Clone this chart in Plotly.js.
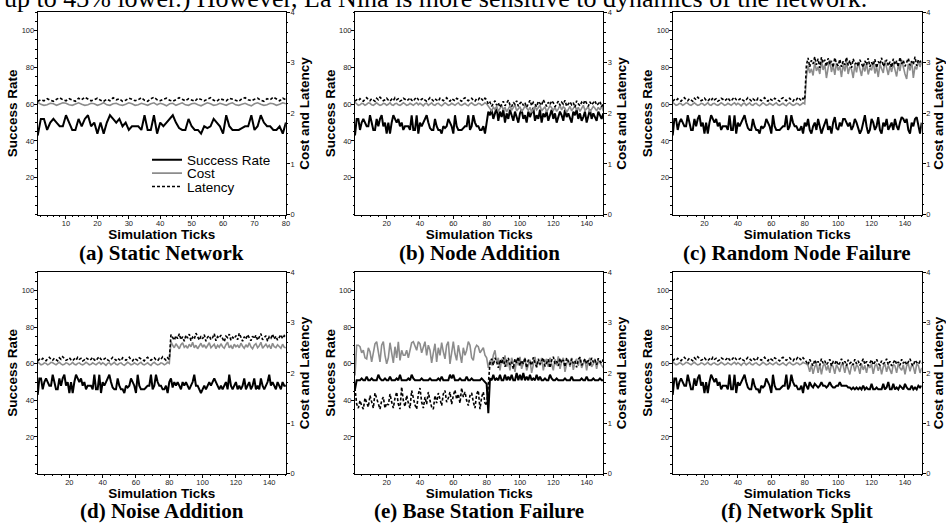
<!DOCTYPE html>
<html>
<head>
<meta charset="utf-8">
<script src="https://cdn.plot.ly/plotly-3.0.1.min.js"></script>
<style>
html,body{margin:0;padding:0;background:#fff;}
#chart{width:946px;height:525px;}
</style>
</head>
<body>
<div id="chart"></div>
<script>
// ---------------- DATA ----------------
const seriesNames = ['Success Rate', 'Cost', 'Latency'];
const panelCaptions = ['(a) Static Network', '(b) Node Addition', '(c) Random Node Failure',
                       '(d) Noise Addition', '(e) Base Station Failure', '(f) Network Split'];
const leftAxisTitle = 'Success Rate';
const rightAxisTitle = 'Cost and Latency';
const xAxisTitle = 'Simulation Ticks';
const topText = 'up to 43% lower.) However, La Nina is more sensitive to dynamics of the network.';

// Ticks 1-80 (shared start of every run; panel (a) shows only these)
const baseSuccess = [
  43,52,52,46,50,52,50,48,48,54,
  50,46,46,52,48,52,54,48,50,44,
  50,44,50,54,52,50,52,48,50,46,
  48,48,48,46,54,46,46,54,44,50,
  48,50,52,54,50,47,46,46,52,48,
  46,46,44,48,47,48,52,50,48,44,
  54,48,46,46,46,47,48,48,54,46,
  48,54,50,48,48,46,46,48,44,50
];
const baseCost = [
  2.22,2.18,2.16,2.17,2.20,2.19,2.16,2.18,2.21,2.20,
  2.17,2.16,2.19,2.21,2.18,2.16,2.17,2.20,2.19,2.16,
  2.18,2.21,2.17,2.16,2.19,2.20,2.17,2.16,2.18,2.21,
  2.19,2.16,2.17,2.20,2.18,2.16,2.19,2.21,2.17,2.20,
  2.18,2.15,2.19,2.20,2.16,2.18,2.21,2.17,2.16,2.19,
  2.20,2.17,2.15,2.18,2.21,2.19,2.16,2.17,2.20,2.18,
  2.16,2.19,2.21,2.17,2.16,2.18,2.20,2.17,2.15,2.19,
  2.21,2.18,2.16,2.17,2.20,2.19,2.16,2.18,2.21,2.19
];
const baseLatency = [
  2.24,2.27,2.25,2.29,2.26,2.24,2.28,2.31,2.27,2.25,
  2.29,2.26,2.24,2.30,2.27,2.32,2.28,2.25,2.27,2.30,
  2.26,2.24,2.28,2.25,2.31,2.27,2.29,2.24,2.26,2.30,
  2.28,2.25,2.27,2.31,2.26,2.24,2.29,2.32,2.27,2.25,
  2.28,2.30,2.26,2.24,2.27,2.31,2.28,2.25,2.29,2.26,
  2.24,2.30,2.27,2.25,2.28,2.31,2.26,2.24,2.29,2.27,
  2.25,2.30,2.28,2.26,2.24,2.29,2.31,2.27,2.25,2.28,
  2.30,2.26,2.24,2.29,2.27,2.32,2.28,2.25,2.30,2.27
];

// (b) Node Addition, ticks 81-150
const nodeAddSuccess = [
  56,54,57,52,55,58,51,56,53,57,
  50,55,52,57,54,51,56,53,50,55,
  57,52,54,50,56,53,55,58,51,54,
  52,57,50,55,53,56,51,54,57,52,
  55,50,53,56,54,51,57,53,55,52,
  50,56,54,57,52,55,51,53,56,50,
  54,57,52,55,53,51,56,54,52,55
];
const nodeAddCost = [
  2.15,2.10,2.05,2.12,2.08,2.14,2.04,2.10,2.16,2.07,
  2.12,2.03,2.09,2.15,2.06,2.11,2.17,2.05,2.10,2.13,
  2.04,2.08,2.15,2.10,2.06,2.12,2.02,2.09,2.14,2.07,
  2.11,2.16,2.05,2.10,2.13,2.03,2.08,2.15,2.11,2.06,
  2.12,2.04,2.09,2.16,2.07,2.13,2.10,2.02,2.08,2.14,
  2.05,2.11,2.15,2.07,2.12,2.04,2.10,2.16,2.06,2.09,
  2.13,2.03,2.08,2.14,2.10,2.05,2.12,2.07,2.15,2.04
];
const nodeAddLatency = [
  2.18,2.22,2.14,2.20,2.25,2.16,2.21,2.12,2.19,2.24,
  2.15,2.20,2.26,2.17,2.13,2.22,2.18,2.25,2.14,2.20,
  2.23,2.16,2.21,2.12,2.19,2.26,2.15,2.22,2.18,2.13,
  2.24,2.20,2.16,2.27,2.19,2.14,2.22,2.17,2.25,2.21,
  2.13,2.19,2.24,2.16,2.22,2.18,2.26,2.14,2.20,2.23,
  2.17,2.21,2.12,2.25,2.19,2.15,2.22,2.18,2.26,2.20,
  2.14,2.23,2.17,2.21,2.25,2.16,2.19,2.24,2.13,2.20
];

// (c) Random Node Failure, ticks 81-150
const nodeFailSuccess = [
  48,52,46,44,48,50,46,52,48,44,
  47,50,52,46,48,44,50,53,47,46,
  50,48,52,52,50,48,50,46,48,52,
  50,47,44,46,50,54,48,44,46,52,
  50,46,48,53,46,44,50,48,52,46,
  48,50,46,52,48,46,50,53,52,50,
  52,46,44,50,48,52,53,48,44,50
];
const nodeFailCost = [
  2.72,2.95,2.80,2.88,2.75,3.02,2.84,2.92,2.78,3.05,
  2.86,2.97,2.70,2.90,3.06,2.82,2.95,2.76,3.00,2.85,
  2.93,2.72,2.98,2.83,3.04,2.78,2.92,2.87,2.70,2.96,
  2.81,3.02,2.88,2.74,2.95,2.83,2.99,2.77,2.90,2.85,
  3.03,2.79,2.92,2.72,2.97,2.86,2.80,3.05,2.88,2.76,
  2.94,2.82,3.00,2.89,2.73,2.96,2.84,3.06,2.91,2.78,
  2.68,2.98,2.85,3.04,2.70,2.93,2.87,3.05,2.92,3.02
];
const nodeFailLatency = [
  2.95,3.10,2.92,3.05,2.98,3.12,2.96,3.08,2.90,3.11,
  3.00,3.06,2.93,3.09,2.97,3.04,2.91,3.10,2.99,2.94,
  3.07,2.92,3.03,2.96,3.11,2.95,3.05,2.90,3.08,2.97,
  3.02,2.93,3.06,2.98,2.91,3.04,2.96,3.09,2.92,3.01,
  2.95,3.07,2.90,3.03,2.97,3.10,2.93,2.99,3.06,2.94,
  3.02,2.91,3.08,2.96,3.04,2.92,3.11,2.98,3.05,2.93,
  3.00,3.09,2.95,3.03,2.97,3.12,2.94,3.06,3.01,3.08
];

// (d) Noise Addition, ticks 81-150
const noiseSuccess = [
  52,47,50,48,50,48,46,50,48,50,
  48,46,48,50,54,48,48,46,44,46,
  48,46,48,50,48,50,52,50,48,46,
  48,46,48,50,46,54,48,46,48,50,
  46,48,46,48,52,46,48,50,46,48,
  52,46,48,46,52,48,46,48,50,54,
  48,50,48,46,50,48,46,50,48,48
];
const noiseCost = [
  2.62,2.55,2.50,2.58,2.52,2.48,2.56,2.60,2.51,2.54,
  2.49,2.57,2.52,2.61,2.50,2.55,2.48,2.53,2.59,2.51,
  2.56,2.49,2.54,2.60,2.50,2.53,2.57,2.48,2.55,2.51,
  2.58,2.52,2.49,2.56,2.61,2.50,2.54,2.48,2.57,2.52,
  2.55,2.50,2.59,2.53,2.49,2.56,2.51,2.60,2.52,2.48,
  2.55,2.58,2.50,2.54,2.61,2.49,2.53,2.57,2.51,2.55,
  2.48,2.59,2.52,2.50,2.56,2.53,2.49,2.57,2.51,2.50
];
const noiseLatency = [
  2.76,2.70,2.65,2.74,2.68,2.78,2.66,2.72,2.63,2.75,
  2.69,2.77,2.64,2.71,2.67,2.79,2.70,2.65,2.73,2.68,
  2.76,2.63,2.71,2.74,2.66,2.70,2.78,2.64,2.72,2.69,
  2.75,2.67,2.62,2.73,2.70,2.77,2.65,2.71,2.68,2.74,
  2.66,2.79,2.69,2.63,2.72,2.67,2.76,2.70,2.64,2.73,
  2.68,2.75,2.65,2.71,2.78,2.66,2.70,2.74,2.63,2.72,
  2.69,2.77,2.67,2.73,2.65,2.71,2.76,2.68,2.74,2.70
];

// (e) Base Station Failure, ticks 1-150
const baseStationSuccess = [
  46,51,51,51,52,51,51,53,51,51,
  52,51,51,51,54,52,51,51,52,51,
  51,53,51,51,51,52,51,54,51,51,
  51,51,52,51,54,52,51,51,51,51,
  52,51,51,51,51,52,51,51,51,51,
  52,51,53,51,51,51,51,54,52,54,
  51,51,51,52,51,51,51,53,51,51,
  52,51,51,51,51,51,52,51,50,49,
  33,52,51,54,51,52,51,54,51,51,
  54,51,53,51,54,51,51,55,51,54,
  51,55,51,53,51,54,51,52,51,54,
  51,53,51,51,52,51,51,54,52,51,
  51,52,51,51,51,51,52,51,51,51,
  53,51,51,51,51,51,52,51,51,53,
  51,51,51,52,51,51,51,52,51,51
];
const baseStationCost = [
  1.95,2.55,2.55,2.52,2.40,2.45,2.30,2.28,2.50,2.42,
  2.22,2.40,2.58,2.62,2.38,2.22,2.55,2.62,2.35,2.18,
  2.30,2.60,2.40,2.20,2.52,2.30,2.62,2.25,2.45,2.35,
  2.35,2.45,2.30,2.48,2.60,2.62,2.55,2.45,2.62,2.58,
  2.40,2.50,2.62,2.35,2.55,2.45,2.20,2.40,2.58,2.22,
  2.50,2.35,2.60,2.42,2.28,2.55,2.62,2.18,2.45,2.62,
  2.38,2.25,2.55,2.40,2.20,2.50,2.35,2.45,2.62,2.55,
  2.30,2.25,2.48,2.55,2.52,2.40,2.45,2.50,2.35,2.30,
  2.10,2.25,2.15,2.35,2.45,2.20,2.30,2.05,2.28,2.18,
  2.35,2.12,2.25,2.05,2.30,2.20,2.02,2.28,2.15,2.32,
  2.08,2.22,2.30,2.05,2.18,2.26,2.00,2.20,2.32,2.10,
  2.25,2.15,2.30,2.05,2.22,2.28,2.12,2.30,2.18,2.05,
  2.27,2.15,2.33,2.08,2.22,2.30,2.02,2.18,2.26,2.12,
  2.30,2.06,2.22,2.28,2.14,2.32,2.10,2.20,2.27,2.05,
  2.24,2.30,2.12,2.18,2.28,2.08,2.25,2.20,2.15,2.10
];
const baseStationLatency = [
  1.70,1.38,1.30,1.45,1.35,1.28,1.50,1.40,1.32,1.55,
  1.42,1.30,1.60,1.48,1.35,1.28,1.45,1.52,1.30,1.40,
  1.36,1.58,1.42,1.30,1.50,1.62,1.38,1.28,1.72,1.45,
  1.33,1.55,1.40,1.30,1.65,1.48,1.36,1.28,1.58,1.70,
  1.42,1.30,1.52,1.38,1.62,1.45,1.32,1.28,1.55,1.40,
  1.60,1.48,1.35,1.58,1.65,1.42,1.50,1.62,1.38,1.55,
  1.66,1.48,1.58,1.40,1.70,1.52,1.62,1.45,1.35,1.55,
  1.60,1.42,1.30,1.58,1.65,1.28,1.52,1.62,1.40,1.35,
  1.90,2.20,2.28,2.15,2.30,2.22,2.10,2.26,2.18,2.31,
  2.12,2.24,2.30,2.16,2.22,2.08,2.28,2.20,2.32,2.14,
  2.25,2.18,2.30,2.10,2.26,2.22,2.15,2.31,2.20,2.12,
  2.28,2.17,2.24,2.30,2.13,2.22,2.27,2.10,2.25,2.32,
  2.18,2.23,2.14,2.29,2.20,2.26,2.12,2.30,2.22,2.16,
  2.28,2.19,2.24,2.11,2.27,2.31,2.15,2.22,2.28,2.18,
  2.25,2.13,2.30,2.21,2.26,2.16,2.29,2.23,2.19,2.27
];

// (f) Network Split, ticks 81-150
const splitSuccess = [
  48,46,50,48,47,49,48,47,48,50,
  48,48,47,48,50,48,47,47,48,48,
  50,48,48,48,48,47,47,46,47,46,
  47,46,47,46,48,46,47,46,46,49,
  46,46,47,46,46,46,49,46,47,50,
  46,46,49,46,47,46,48,47,46,49,
  47,46,46,48,46,47,46,48,47,48
];
const splitCost = [
  2.18,2.15,2.02,2.16,1.98,2.12,2.18,2.00,2.17,1.97,
  2.14,2.18,2.05,2.15,2.00,2.18,2.12,1.98,2.16,2.10,
  2.02,2.18,2.15,2.00,2.17,2.08,1.97,2.14,2.18,2.03,
  2.16,2.12,1.98,2.18,2.06,2.15,2.00,2.17,2.10,2.18,
  1.98,2.14,2.17,2.04,2.16,1.97,2.12,2.18,2.02,2.15,
  2.08,1.98,2.17,2.14,2.00,2.18,2.10,2.05,2.16,1.97,
  2.14,2.18,2.03,2.16,2.12,1.98,2.17,2.15,2.00,2.10
];
const splitLatency = [
  2.22,2.16,2.27,2.20,2.14,2.26,2.18,2.23,2.15,2.28,
  2.19,2.24,2.16,2.21,2.27,2.14,2.22,2.18,2.25,2.15,
  2.20,2.28,2.17,2.23,2.14,2.26,2.19,2.22,2.16,2.27,
  2.18,2.24,2.15,2.21,2.28,2.17,2.23,2.14,2.20,2.26,
  2.16,2.22,2.27,2.19,2.15,2.24,2.18,2.21,2.28,2.16,
  2.23,2.14,2.20,2.26,2.17,2.22,2.15,2.27,2.19,2.24,
  2.16,2.21,2.28,2.18,2.14,2.25,2.20,2.17,2.23,2.19
];

// ---------------- BUILD ----------------
const W = 946, H = 525;
const ticks80 = baseSuccess.map((_, i) => i + 1);
const ticks150 = baseStationSuccess.map((_, i) => i + 1);

const panelSeries = [
  [baseSuccess, baseCost, baseLatency],
  [baseSuccess.concat(nodeAddSuccess), baseCost.concat(nodeAddCost), baseLatency.concat(nodeAddLatency)],
  [baseSuccess.concat(nodeFailSuccess), baseCost.concat(nodeFailCost), baseLatency.concat(nodeFailLatency)],
  [baseSuccess.concat(noiseSuccess), baseCost.concat(noiseCost), baseLatency.concat(noiseLatency)],
  [baseStationSuccess, baseStationCost, baseStationLatency],
  [baseSuccess.concat(splitSuccess), baseCost.concat(splitCost), baseLatency.concat(splitLatency)]
];

// pixel geometry of the plot boxes
const colPx = [[37.7, 285.9], [355.0, 603.3], [672.7, 921.7]];
const rowPx = [[12.3, 214.5], [272.3, 473.5]];
const captionY = [253, 511];

const sans = 'Liberation Sans, Arial, Helvetica, sans-serif';
const serif = 'Liberation Serif, Times New Roman, serif';
const tickFont = {family: sans, size: 7.5, color: '#222'};
const titleFont = {family: sans, size: 13.5, color: '#000', weight: 'bold'};

const traces = [];
const layout = {
  width: W, height: H,
  margin: {l: 0, r: 0, t: 0, b: 0},
  paper_bgcolor: '#fff', plot_bgcolor: '#fff',
  showlegend: true,
  annotations: [],
  font: {family: sans}
};

const legendIds = ['legend', 'legend2', 'legend3'];
const legendRowsPx = [160, 173.3, 186.7];
legendIds.forEach((id, k) => {
  layout[id] = {
    x: 147 / W, xanchor: 'left',
    y: 1 - legendRowsPx[k] / H, yanchor: 'middle',
    bgcolor: 'rgba(0,0,0,0)', borderwidth: 0,
    font: {family: sans, size: 13.5, color: '#000'},
    tracegroupgap: 0
  };
});

const styles = [
  {color: '#000000', width: 2, dash: 'solid'},
  {color: '#8c8c8c', width: 1.6, dash: 'solid'},
  {color: '#000000', width: 1.6, dash: '3px,2px'}
];

for (let p = 0; p < 6; p++) {
  const col = p % 3, row = Math.floor(p / 3);
  const xId = p + 1, yL = 2 * p + 1, yR = 2 * p + 2;
  const xKey = 'xaxis' + (xId === 1 ? '' : xId);
  const yLKey = 'yaxis' + (yL === 1 ? '' : yL);
  const yRKey = 'yaxis' + yR;
  const xRef = 'x' + (xId === 1 ? '' : xId);
  const yLRef = 'y' + (yL === 1 ? '' : yL);
  const yRRef = 'y' + yR;
  const isA = p === 0;
  const ticks = isA ? ticks80 : ticks150;
  const xd = [colPx[col][0] / W, colPx[col][1] / W];
  const yd = [1 - rowPx[row][1] / H, 1 - rowPx[row][0] / H];

  layout[xKey] = {
    domain: xd, anchor: yLRef,
    range: isA ? [1, 80] : [1, 150],
    tickvals: isA ? [10, 20, 30, 40, 50, 60, 70, 80] : [20, 40, 60, 80, 100, 120, 140],
    ticks: 'outside', ticklen: 3, tickwidth: 1, tickcolor: '#000',
    ticklabelstandoff: -2,
    minor: {ticks: 'outside', ticklen: 1.5, tickwidth: 1, tickcolor: '#000', dtick: isA ? 2 : 5, tick0: 0, showgrid: false},
    showline: true, linecolor: '#000', linewidth: 1, mirror: true,
    showgrid: false, zeroline: false,
    tickfont: tickFont,
    title: {text: xAxisTitle, font: titleFont, standoff: 0}
  };
  layout[yLKey] = {
    domain: yd, anchor: xRef,
    range: [0, 110],
    tickvals: [20, 40, 60, 80, 100],
    ticks: 'outside', ticklen: 3, tickwidth: 1, tickcolor: '#000',
    ticklabelstandoff: -2,
    minor: {ticks: 'outside', ticklen: 1.5, tickwidth: 1, tickcolor: '#000', dtick: 5, tick0: 0, showgrid: false},
    showline: true, linecolor: '#000', linewidth: 1,
    showgrid: false, zeroline: false,
    tickfont: tickFont,
    title: {text: leftAxisTitle, font: titleFont, standoff: 0}
  };
  layout[yRKey] = {
    overlaying: yLRef, anchor: xRef, side: 'right',
    range: [0, 4],
    tickvals: [0, 1, 2, 3, 4],
    ticks: 'outside', ticklen: 3, tickwidth: 1, tickcolor: '#000',
    ticklabelstandoff: -1,
    minor: {ticks: 'outside', ticklen: 1.5, tickwidth: 1, tickcolor: '#000', dtick: 0.2, tick0: 0, showgrid: false},
    showline: true, linecolor: '#000', linewidth: 1,
    showgrid: false, zeroline: false,
    tickfont: tickFont,
    title: {text: rightAxisTitle, font: titleFont, standoff: 5}
  };

  const data = panelSeries[p];
  for (let s = 0; s < 3; s++) {
    traces.push({
      type: 'scatter', mode: 'lines',
      x: ticks, y: data[s],
      xaxis: xRef, yaxis: s === 0 ? yLRef : yRRef,
      name: seriesNames[s],
      line: {color: styles[s].color, width: styles[s].width, dash: styles[s].dash},
      showlegend: isA,
      legend: legendIds[s],
      hoverinfo: 'skip'
    });
  }

  layout.annotations.push({
    xref: 'paper', yref: 'paper',
    x: (xd[0] + xd[1]) / 2, y: 1 - captionY[row] / H,
    xanchor: 'center', yanchor: 'middle',
    text: panelCaptions[p], showarrow: false,
    font: {family: serif, size: 21, color: '#000', weight: 'bold'}
  });
}

layout.annotations.push({
  xref: 'paper', yref: 'paper',
  x: 2 / W, y: 1 - 15 / H, xanchor: 'left', yanchor: 'bottom',
  text: topText, showarrow: false,
  font: {family: serif, size: 26, color: '#000'}
});

Plotly.newPlot('chart', traces, layout, {staticPlot: true, displayModeBar: false});
</script>
</body>
</html>
